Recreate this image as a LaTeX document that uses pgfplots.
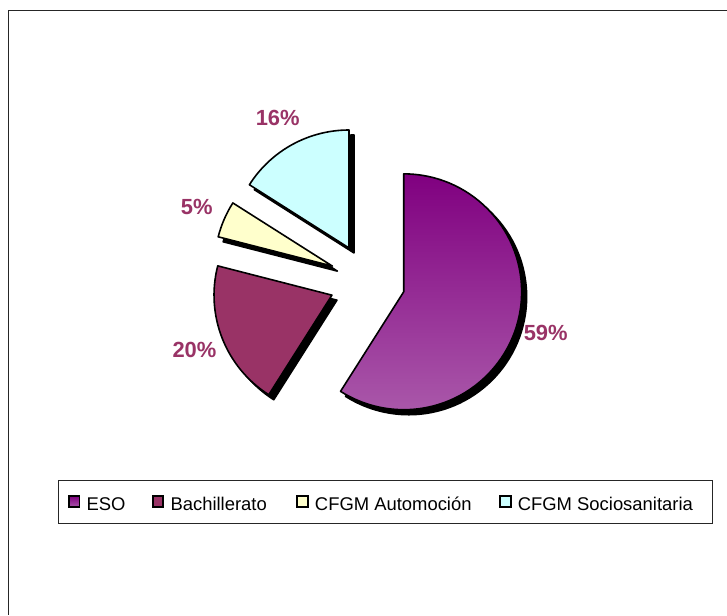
\documentclass[border=0pt]{standalone}
\usepackage{pgfplots}
\pgfplotsset{compat=1.18}
\usepackage{pgfplotstable}
\usepackage{fontspec}
\setmainfont{Liberation Sans}
\definecolor{esoT}{HTML}{800080}
\definecolor{esoB}{HTML}{A957A9}
\definecolor{bach}{HTML}{993366}
\definecolor{autoc}{HTML}{FFFFCC}
\definecolor{socio}{HTML}{CCFFFF}
\definecolor{lab}{HTML}{993366}

\pgfplotstableread{
name value
ESO 59
Bachillerato 20
Automocion 5
Sociosanitaria 16
}\piedata

\pgfplotstablegetelem{0}{value}\of\piedata\edef\vA{\pgfplotsretval}
\pgfplotstablegetelem{1}{value}\of\piedata\edef\vB{\pgfplotsretval}
\pgfplotstablegetelem{2}{value}\of\piedata\edef\vC{\pgfplotsretval}
\pgfplotstablegetelem{3}{value}\of\piedata\edef\vD{\pgfplotsretval}
\pgfmathsetmacro\sA{90}
\pgfmathsetmacro\eA{\sA-3.6*\vA}
\pgfmathsetmacro\eB{\eA-3.6*\vB}
\pgfmathsetmacro\eC{\eB-3.6*\vC}
\pgfmathsetmacro\eD{\eC-3.6*\vD}
\pgfmathsetmacro\mA{(\sA+\eA)/2}
\pgfmathsetmacro\mB{(\eA+\eB)/2}
\pgfmathsetmacro\mC{(\eB+\eC)/2}
\pgfmathsetmacro\mD{(\eC+\eD)/2}
\def\cx{367.5}\def\cy{333.6}\def\ex{38}\def\lr{186}
\pgfmathsetmacro\xA{\cx+\ex*cos(\mA)}\pgfmathsetmacro\yA{\cy+\ex*sin(\mA)}
\pgfmathsetmacro\xB{\cx+\ex*cos(\mB)}\pgfmathsetmacro\yB{\cy+\ex*sin(\mB)}
\pgfmathsetmacro\xC{\cx+\ex*cos(\mC)}\pgfmathsetmacro\yC{\cy+\ex*sin(\mC)}
\pgfmathsetmacro\xD{\cx+\ex*cos(\mD)}\pgfmathsetmacro\yD{\cy+\ex*sin(\mD)}
\pgfmathsetmacro\lxA{\cx+\lr*cos(\mA)}\pgfmathsetmacro\lyA{\cy+\lr*sin(\mA)}
\pgfmathsetmacro\lxB{\cx+\lr*cos(\mB)}\pgfmathsetmacro\lyB{\cy+\lr*sin(\mB)}
\pgfmathsetmacro\lxC{\cx+\lr*cos(\mC)}\pgfmathsetmacro\lyC{\cy+\lr*sin(\mC)}
\pgfmathsetmacro\lxD{\cx+\lr*cos(\mD)}\pgfmathsetmacro\lyD{\cy+\lr*sin(\mD)}

\newcommand\piewedge[5]{%
  \filldraw[black,line width=1.6bp,line join=round,xshift=5bp,yshift=-5bp]
    (axis cs:#1,#2) -- ++(#3:118bp) arc[start angle=#3,end angle=#4,radius=118bp] -- cycle;
  \filldraw[#5,draw=black,line width=1.6bp,line join=round]
    (axis cs:#1,#2) -- ++(#3:118bp) arc[start angle=#3,end angle=#4,radius=118bp] -- cycle;
}
\newcommand\pielabel[3]{%
  \node[text=lab,font=\fontsize{22}{24}\selectfont\bfseries,anchor=center] at (axis cs:#1,#2) {#3\%};}
\newcommand\legitem[3]{%
  \filldraw[#2,draw=black,line width=1.8bp] (axis cs:#1,107.5) rectangle (axis cs:#1+10.5,118.5);
  \node[anchor=base west,inner sep=0pt,font=\fontsize{18.5}{20}\selectfont] at (axis cs:#1+17.5,104) {#3};}

\begin{document}
\begin{tikzpicture}
\begin{axis}[x=1bp,y=1bp,xmin=0,xmax=727,ymin=0,ymax=615,
  scale only axis,hide axis,clip=false]
\path (axis cs:0,0) rectangle (axis cs:727,615);
% frame
\draw[line width=1bp,black!85] (axis cs:8.5,0) -- (axis cs:8.5,604) -- (axis cs:727,604);
% slices
\piewedge{\xA}{\yA}{\sA}{\eA}{top color=esoT,bottom color=esoB}
\piewedge{\xB}{\yB}{\eA}{\eB}{fill=bach}
\piewedge{\xC}{\yC}{\eB}{\eC}{fill=autoc}
\piewedge{\xD}{\yD}{\eC}{\eD}{fill=socio}
% labels
\pielabel{\lxA}{\lyA}{\vA}
\pielabel{\lxB}{\lyB}{\vB}
\pielabel{\lxC}{\lyC}{\vC}
\pielabel{\lxD}{\lyD}{\vD}
% legend
\draw[line width=1bp,black!85] (axis cs:58.5,91) rectangle (axis cs:712.5,134);
\legitem{69}{top color=esoT,bottom color=esoB}{ESO}
\legitem{153}{fill=bach}{Bachillerato}
\legitem{297.5}{fill=autoc}{CFGM Automoción}
\legitem{500.5}{fill=socio}{CFGM Sociosanitaria}
\end{axis}
\end{tikzpicture}
\end{document}
